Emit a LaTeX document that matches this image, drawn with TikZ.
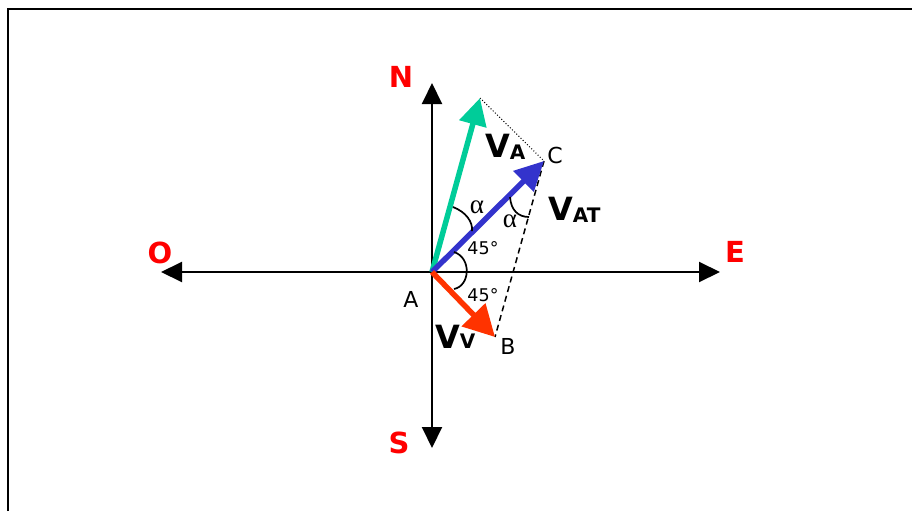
\documentclass[tikz,border=0pt]{standalone}
\usepackage{fontspec}
\setmainfont{DejaVu Sans}
\newfontfamily\greekf{Liberation Serif}
\usetikzlibrary{arrows.meta}
\definecolor{vgreen}{RGB}{0,204,153}
\definecolor{vblue}{RGB}{51,51,204}
\definecolor{vred}{RGB}{255,51,0}
\definecolor{cred}{RGB}{255,0,0}
\begin{document}
\begin{tikzpicture}[x=1pt,y=-1pt,
  axisline/.style={line width=2pt,{Triangle[length=21pt,width=20pt]}-{Triangle[length=21pt,width=20pt]}},
  vec/.style={line width=5.5pt},
  compass/.style={text=cred,font=\fontsize{29}{29}\selectfont\bfseries,inner sep=0pt,anchor=center},
  ptlabel/.style={font=\fontsize{22}{22}\selectfont,inner sep=0pt,anchor=center},
  anglab/.style={font=\fontsize{17.5}{17.5}\selectfont,inner sep=0pt,anchor=center},
  alab/.style={font=\fontsize{27}{27}\selectfont\greekf,inner sep=0pt,anchor=center},
  vlab/.style={font=\fontsize{32}{32}\selectfont\bfseries,inner sep=0pt,anchor=base west},
  arcline/.style={line width=1.7pt}]
\useasboundingbox (0,0) rectangle (912,511);
\draw[line width=2.2pt] (8,511) -- (8,9) -- (912,9);
% axes
\coordinate (A) at (432,272);
\coordinate (Ntip) at (432,83);
\coordinate (Stip) at (432,448);
\coordinate (Otip) at (161,272);
\coordinate (Etip) at (720,272);
\draw[axisline] (Otip) -- (Etip);
\draw[axisline] (Stip) -- (Ntip);
% vectors
\coordinate (G) at (480,98);
\coordinate (C) at (544,161);
\coordinate (B) at (495,337);
\draw[dotted,line width=1pt] (G) -- (C);
\draw[dashed,dash pattern=on 6pt off 4pt,line width=1.5pt] (C) -- (B);
\draw[vec,vgreen,-{Triangle[length=27pt,width=27pt]}] (A) -- (G);
\draw[vec,vblue,-{Triangle[length=29pt,width=28pt]}] (A) -- (C);
\draw[vec,vred,-{Triangle[length=31pt,width=32pt]}] (A) -- (B);
% angle arcs
\draw[arcline] (453,207) .. controls (466,212) and (473,222) .. (472,231);
\draw[arcline] (454,252) .. controls (472,258) and (470,286) .. (454,289);
\draw[arcline] (510,197) .. controls (511,210) and (518,217) .. (529,217);
% labels
\node[compass] (lN) at (401,77) {N};
\node[compass] (lO) at (160,253) {O};
\node[compass] (lE) at (735,252) {E};
\node[compass] (lS) at (399,443) {S};
\node[ptlabel] (lA) at (411,299) {A};
\node[ptlabel] (lB) at (508,346) {B};
\node[ptlabel] (lC) at (555,155) {C};
\node[anglab] (a1) at (483,248) {45°};
\node[anglab] (a2) at (483,295) {45°};
\node[alab] (al1) at (477,207) {α};
\node[alab] (al2) at (510,221) {α};
\node[vlab] (vA) at (485,157) {V\raisebox{-2pt}{\fontsize{20}{20}\selectfont A}};
\node[vlab] (vAT) at (548,220) {V\raisebox{-2pt}{\fontsize{20}{20}\selectfont AT}};
\node[vlab] (vV) at (435,348) {V{\fontsize{20}{20}\selectfont V}};
\end{tikzpicture}
\end{document}
